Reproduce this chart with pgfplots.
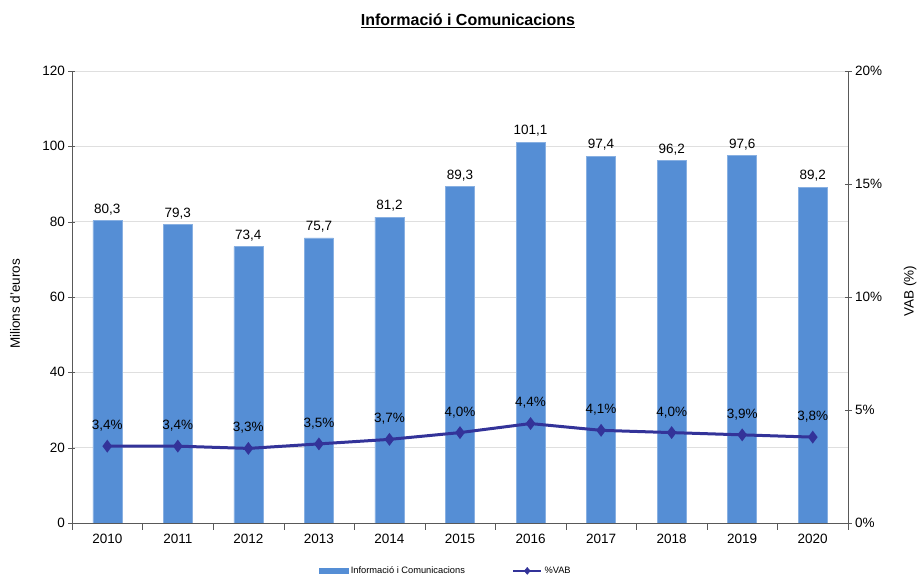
\documentclass[border=0pt]{standalone}
\usepackage{fontspec}
\setmainfont{Liberation Sans}
\usepackage{pgfplots}
\pgfplotsset{compat=1.18}
\definecolor{barblue}{RGB}{85,142,213}
\definecolor{linecol}{RGB}{51,51,153}
\begin{document}
\begin{tikzpicture}[font=\fontsize{13.5}{16}\selectfont]
\useasboundingbox (-72pt,-57pt) rectangle (847pt,523pt);
\begin{axis}[
  at={(0pt,0pt)}, anchor=south west,
  scale only axis, width=776pt, height=452pt,
  xmin=-0.5, xmax=10.5, ymin=0, ymax=120,
  ytick={0,20,...,120},
  xtick={0,...,10}, xticklabels={2010,2011,2012,2013,2014,2015,2016,2017,2018,2019,2020},
  minor xtick={-0.5,0.5,...,10.5},
  major x tick style={draw=none},
  axis x line*=bottom, axis y line*=left,
  ymajorgrids, grid style={gray!25},
  tick align=center, major tick length=7pt, minor tick length=7pt,
  axis line style={black!65}, tick style={black!65},
  /pgf/number format/assume math mode=true,
  ylabel={Milions d'euros},
  ylabel style={at={(axis description cs:-0.0735,0.485)}, anchor=center},
  xticklabel style={yshift=-1pt},
  ybar, bar width=29pt,
  nodes near coords={\pgfmathprintnumber[fixed,fixed zerofill,precision=1,use comma]{\pgfplotspointmeta}},
  every node near coord/.append style={yshift=2pt, text=black},
]
\addplot[fill=barblue, draw=barblue!70!white, line width=0.4pt] coordinates {
(0,80.3) (1,79.3) (2,73.4) (3,75.7) (4,81.2) (5,89.3) (6,101.1) (7,97.4) (8,96.2) (9,97.6) (10,89.2)};
\end{axis}
\begin{axis}[
  at={(0pt,0pt)}, anchor=south west,
  scale only axis, width=776pt, height=452pt,
  xmin=-0.5, xmax=10.5, ymin=0, ymax=20,
  axis x line=none, axis y line*=right,
  ytick={0,5,...,20},
  yticklabel={\pgfmathprintnumber{\tick}\%},
  tick align=center, major tick length=7pt,
  axis line style={black!65}, tick style={black!65},
  /pgf/number format/assume math mode=true,
  ylabel={VAB (\%)},
  ylabel style={at={(axis description cs:1.08,0.513)}, anchor=center, rotate=0},
  legend style={at={(axis description cs:0.482,-0.106)}, anchor=center, draw=none, fill=none,
    legend columns=2, font=\fontsize{9.3}{11}\selectfont,
    /tikz/every even column/.append style={column sep=45pt},
    /tikz/every odd column/.append style={inner xsep=0pt}},
  legend cell align=left,
]
\addlegendimage{legend image code/.code={\fill[barblue] (0pt,-2.5pt) rectangle (29pt,2.5pt);}}
\addlegendimage{legend image code/.code={\draw[linecol,line width=2.5pt] (0pt,0pt) -- (28pt,0pt); \fill[linecol] (14pt,0pt) +(-3pt,0pt) -- +(0pt,3.5pt) -- +(3pt,0pt) -- +(0pt,-3.5pt) -- cycle;}}
\addplot[forget plot, linecol, line width=3pt, mark=diamond*, mark size=4pt,
  nodes near coords={\pgfmathprintnumber[fixed,fixed zerofill,precision=1,use comma]{\pgfplotspointmeta}\%},
  every node near coord/.append style={yshift=10pt, text=black, font=\fontsize{13.5}{16}\selectfont}]
coordinates {
(0,3.4) (1,3.4) (2,3.3) (3,3.5) (4,3.7) (5,4.0) (6,4.4) (7,4.1) (8,4.0) (9,3.9) (10,3.8)};
\legend{Informació i Comunicacions, \%VAB}
\end{axis}
\node[font=\bfseries\fontsize{16}{19}\selectfont] at (396pt,502pt) {\underline{Informació i Comunicacions}};
\end{tikzpicture}
\end{document}
